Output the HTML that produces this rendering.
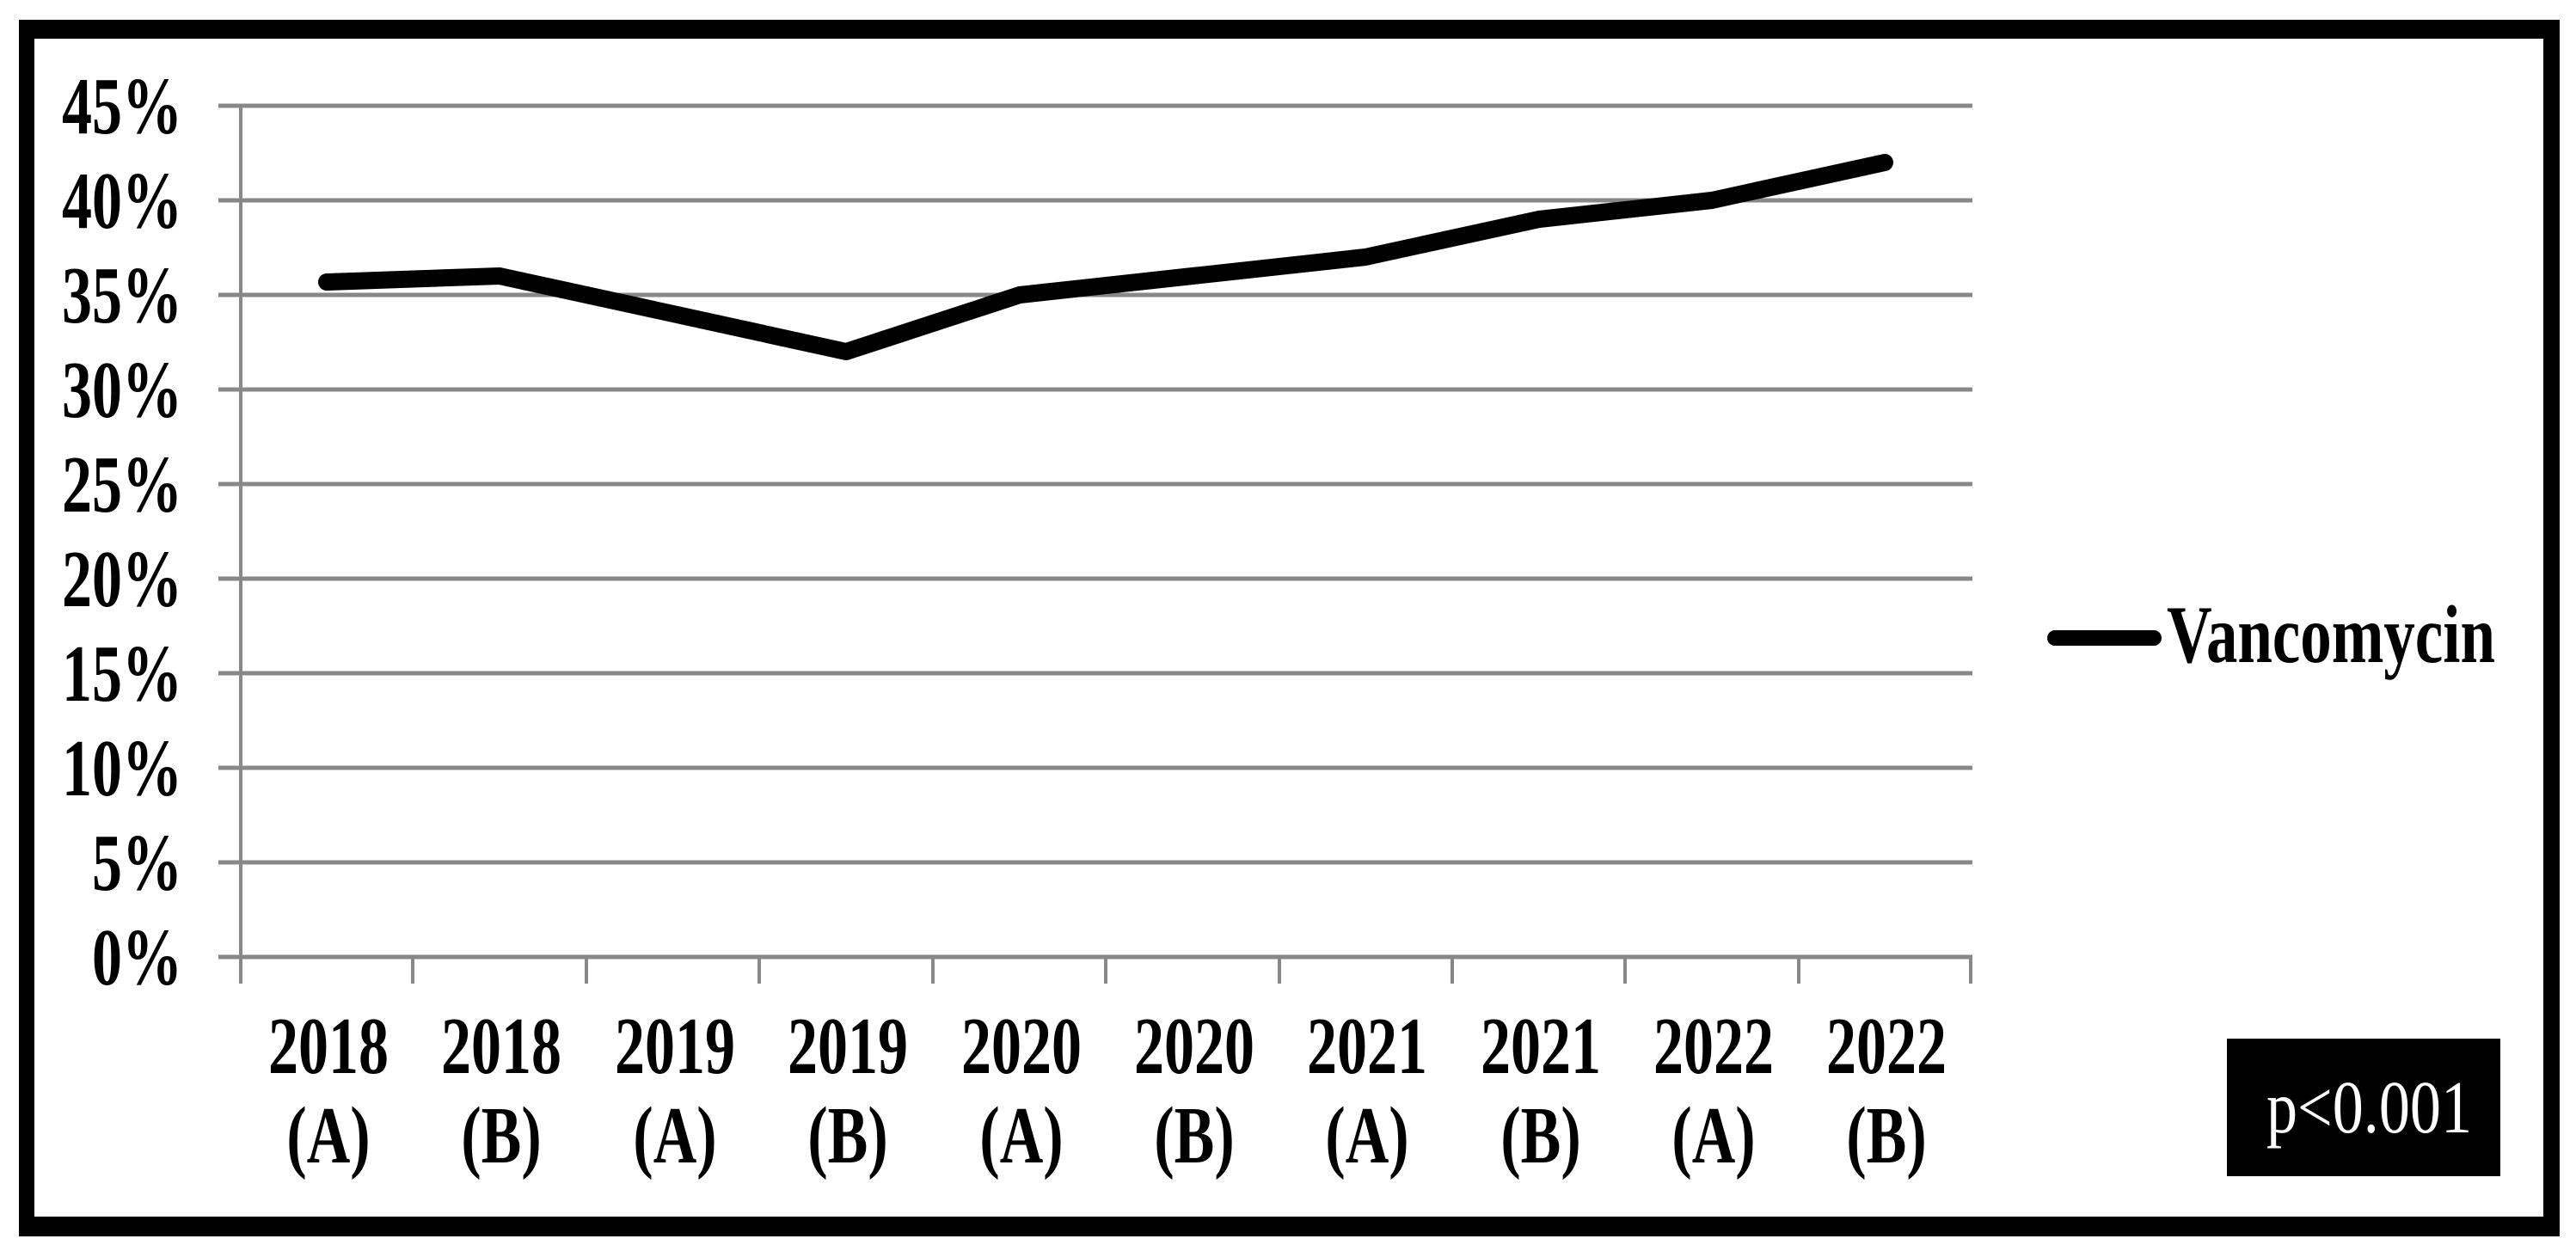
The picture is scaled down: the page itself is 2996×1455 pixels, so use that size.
<!DOCTYPE html>
<html><head><meta charset="utf-8"><style>
html,body{margin:0;padding:0;background:#fff;}
svg{display:block;}
text{font-family:"Liberation Serif",serif;}
</style></head><body>
<svg width="2996" height="1455" viewBox="0 0 2996 1455" xmlns="http://www.w3.org/2000/svg">
<rect x="0" y="0" width="2996" height="1455" fill="#fff"/>
<!-- frame -->
<rect x="22" y="23" width="2955" height="1415" fill="#000"/>
<rect x="40" y="45" width="2918" height="1370" fill="#fff"/>
<!-- gridlines -->
<g stroke="#888" stroke-width="5">
<line x1="254" y1="123" x2="2294" y2="123"/>
<line x1="254" y1="233" x2="2294" y2="233"/>
<line x1="254" y1="343" x2="2294" y2="343"/>
<line x1="254" y1="453" x2="2294" y2="453"/>
<line x1="254" y1="563" x2="2294" y2="563"/>
<line x1="254" y1="673" x2="2294" y2="673"/>
<line x1="254" y1="783" x2="2294" y2="783"/>
<line x1="254" y1="893" x2="2294" y2="893"/>
<line x1="254" y1="1003" x2="2294" y2="1003"/>
<line x1="254" y1="1113" x2="2294" y2="1113"/>
</g>
<g stroke="#888" stroke-width="4">
<line x1="280" y1="123" x2="280" y2="1144"/>
<line x1="480" y1="1113" x2="480" y2="1144"/>
<line x1="682" y1="1113" x2="682" y2="1144"/>
<line x1="883" y1="1113" x2="883" y2="1144"/>
<line x1="1085" y1="1113" x2="1085" y2="1144"/>
<line x1="1286" y1="1113" x2="1286" y2="1144"/>
<line x1="1488" y1="1113" x2="1488" y2="1144"/>
<line x1="1689" y1="1113" x2="1689" y2="1144"/>
<line x1="1890" y1="1113" x2="1890" y2="1144"/>
<line x1="2092" y1="1113" x2="2092" y2="1144"/>
<line x1="2292" y1="1113" x2="2292" y2="1144"/>
</g>
<!-- series -->
<polyline fill="none" stroke="#000" stroke-width="20" stroke-linejoin="round" stroke-linecap="round"
points="380,328 581,321 783,365 984,409 1186,343 1387,321 1588,299 1790,255 1991,233 2192,189"/>
<!-- y labels -->
<g font-weight="bold" font-size="70" text-anchor="end">
<text transform="translate(212,155) scale(1,1.35)">45%</text>
<text transform="translate(212,265) scale(1,1.35)">40%</text>
<text transform="translate(212,375) scale(1,1.35)">35%</text>
<text transform="translate(212,485) scale(1,1.35)">30%</text>
<text transform="translate(212,595) scale(1,1.35)">25%</text>
<text transform="translate(212,705) scale(1,1.35)">20%</text>
<text transform="translate(212,815) scale(1,1.35)">15%</text>
<text transform="translate(212,925) scale(1,1.35)">10%</text>
<text transform="translate(212,1035) scale(1,1.35)">5%</text>
<text transform="translate(212,1145) scale(1,1.35)">0%</text>
</g>
<!-- x labels -->
<g font-weight="bold" font-size="70" text-anchor="middle">
<text transform="translate(382,1248) scale(1,1.35)">2018</text>
<text transform="translate(382,1352) scale(1,1.35)">(A)</text>
<text transform="translate(583,1248) scale(1,1.35)">2018</text>
<text transform="translate(583,1352) scale(1,1.35)">(B)</text>
<text transform="translate(785,1248) scale(1,1.35)">2019</text>
<text transform="translate(785,1352) scale(1,1.35)">(A)</text>
<text transform="translate(986,1248) scale(1,1.35)">2019</text>
<text transform="translate(986,1352) scale(1,1.35)">(B)</text>
<text transform="translate(1188,1248) scale(1,1.35)">2020</text>
<text transform="translate(1188,1352) scale(1,1.35)">(A)</text>
<text transform="translate(1389,1248) scale(1,1.35)">2020</text>
<text transform="translate(1389,1352) scale(1,1.35)">(B)</text>
<text transform="translate(1590,1248) scale(1,1.35)">2021</text>
<text transform="translate(1590,1352) scale(1,1.35)">(A)</text>
<text transform="translate(1792,1248) scale(1,1.35)">2021</text>
<text transform="translate(1792,1352) scale(1,1.35)">(B)</text>
<text transform="translate(1993,1248) scale(1,1.35)">2022</text>
<text transform="translate(1993,1352) scale(1,1.35)">(A)</text>
<text transform="translate(2194,1248) scale(1,1.35)">2022</text>
<text transform="translate(2194,1352) scale(1,1.35)">(B)</text>
</g>
<!-- legend -->
<line x1="2390" y1="742" x2="2505" y2="742" stroke="#000" stroke-width="18" stroke-linecap="round"/>
<text transform="translate(2520,770) scale(1,1.35)" font-weight="bold" font-size="71" textLength="382" lengthAdjust="spacingAndGlyphs">Vancomycin</text>
<!-- p box -->
<rect x="2590" y="1208" width="318" height="160" fill="#000"/>
<text transform="translate(2636,1317) scale(1,1.2)" font-size="72" fill="#fff" textLength="239" lengthAdjust="spacingAndGlyphs">p&lt;0.001</text>
</svg>
</body></html>
